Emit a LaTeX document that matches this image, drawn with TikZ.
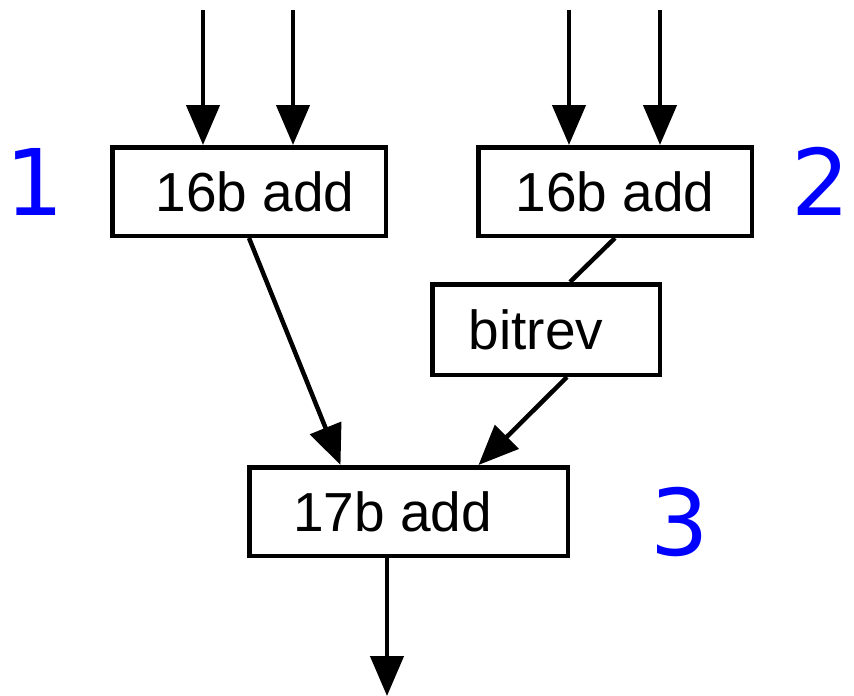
\documentclass[tikz,border=0pt]{standalone}
\usepackage{fontspec}
\setmainfont{Liberation Sans}
\newfontfamily\labfont{DejaVu Sans}
\usetikzlibrary{positioning, arrows.meta}
\tikzset{
block/.style={shape=rectangle, draw, line width=4.5pt, inner sep=0, minimum height=88.5pt, font=\fontsize{55}{60}\selectfont}, stage/.style={inner sep=0, text=blue, font=\labfont\fontsize{92}{96}\selectfont}, arr/.style={-{Triangle[length=40pt,width=33pt]}, line width=4.5pt}}
\begin{document}
\begin{tikzpicture}[x=1pt, y=-1pt]
\useasboundingbox (0,0) rectangle (854,696);
 \node [block, minimum width=273.5pt] (add1) at (249,191.5) {\hspace*{12pt}16b add};
\node [block, minimum width=273.5pt] (add2) at (615,191.5) {16b add};
\node [block, minimum width=227.5pt, minimum height=90.5pt] (bitrev) at (546,329.5) {\hspace*{-20pt}bitrev};
\node [block, minimum width=318.5pt] (add3) at (408.5,511.5) {\hspace*{-32pt}17b add};
\node [stage] (lab1) at (35,181.5) {1};
\node [stage] (lab2) at (821,181.5) {2};
\node [stage] (lab3) at (680,522) {3};
\coordinate (in1) at (203,10);
\coordinate (in2) at (293,10);
\coordinate (in3) at (569,10);
\coordinate (in4) at (660,10);
\coordinate (out) at (387,696);
\draw [arr] (in1) -- (in1 |- add1.north);
\draw [arr] (in2) -- (in2 |- add1.north);
\draw [arr] (in3) -- (in3 |- add2.north);
\draw [arr] (in4) -- (in4 |- add2.north);
\draw [arr] (add1.south) -- ([xshift=-68pt]add3.north);
\draw [line width=4.5pt] (add2.south) -- ([xshift=24pt]bitrev.north);
\draw [arr] ([xshift=21pt]bitrev.south) -- ([xshift=70pt]add3.north);
\draw [arr] (add3.south -| out) -- (out);
\end{tikzpicture}
\end{document}
